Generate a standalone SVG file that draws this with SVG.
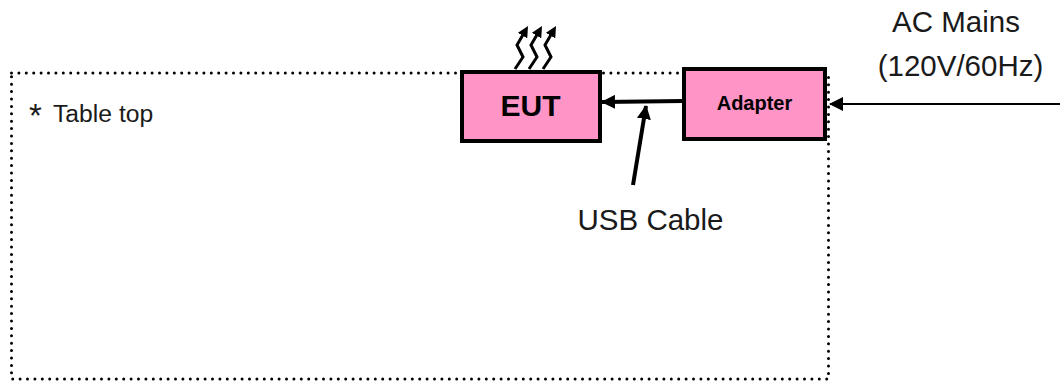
<svg xmlns="http://www.w3.org/2000/svg" width="1060" height="382" viewBox="0 0 1060 382">
<style>
text{font-family:"Liberation Sans",Arial,sans-serif;fill:#1a1a1a}
.box{fill:#ff94c6;stroke:#000;stroke-width:4}
.b{font-weight:bold;fill:#000;text-anchor:middle}
.w{fill:none;stroke:#000;stroke-width:3}
</style>
<defs>
<marker id="a" markerUnits="userSpaceOnUse" markerWidth="14" markerHeight="14" refX="13" refY="7" orient="auto"><path d="M0 0L14 7L0 14Z" fill="#000"/></marker>
<marker id="h" markerUnits="userSpaceOnUse" markerWidth="11" markerHeight="11" refX="3" refY="5.5" orient="auto"><path d="M0 0L11 5.5L0 11Z" fill="#000"/></marker>
</defs>
<rect id="table-top" x="11.5" y="73" width="817" height="306" fill="none" stroke="#000" stroke-width="3" stroke-dasharray="0 7.4" stroke-linecap="round"/>
<g id="table-label"><text x="29" y="127" font-size="33">*</text><text x="53" y="122" font-size="24.7">Table top</text></g>
<g id="eut"><rect class="box" x="462" y="72" width="138" height="69"/><text class="b" x="530.5" y="116" font-size="30">EUT</text></g>
<g id="adapter"><rect class="box" x="684" y="69" width="141" height="70"/><text class="b" x="754.5" y="110" font-size="20">Adapter</text></g>
<g id="heat">
<path class="w" d="M515 69L523 57L517 45L524 33" marker-end="url(#h)"/>
<path class="w" d="M529 69L537 57L531 45L538 33" marker-end="url(#h)"/>
<path class="w" d="M543 69L551 57L545 45L552 33" marker-end="url(#h)"/>
</g>
<g id="connectors" fill="none" stroke="#000">
<path d="M684 101L602 102" stroke-width="4" marker-end="url(#a)"/>
<path d="M633 185L646 106" stroke-width="4" marker-end="url(#a)"/>
<path d="M1060 104H830" stroke-width="2" marker-end="url(#a)"/>
</g>
<g id="labels" font-size="29.5">
<text x="956" y="32" text-anchor="middle">AC Mains</text>
<text x="960.5" y="76" text-anchor="middle">(120V/60Hz)</text>
<text x="650.5" y="230" text-anchor="middle">USB Cable</text>
</g>
</svg>
